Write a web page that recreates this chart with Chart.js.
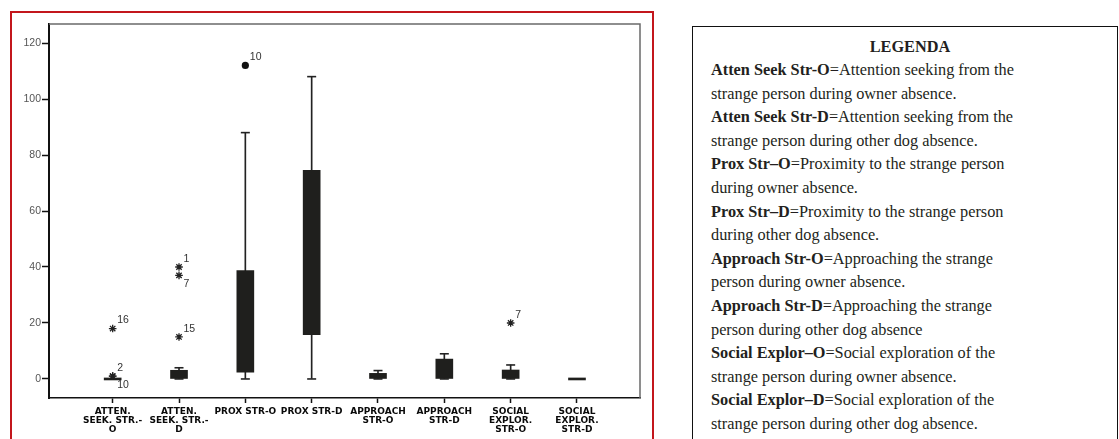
<!DOCTYPE html>
<html>
<head>
<meta charset="utf-8">
<script src="https://cdn.jsdelivr.net/npm/chart.js@4.4.1/dist/chart.umd.min.js"></script>
<style>
  html, body { margin: 0; padding: 0; background: #fff; width: 1119px; height: 439px; overflow: hidden; }
  #frame { position: absolute; left: 10px; top: 11px; width: 644px; height: 450px; border: 2px solid #c3161c; box-sizing: border-box; }
  #wrap { position: absolute; left: 0; top: 0; width: 660px; height: 439px; }
  #legend {
    position: absolute; left: 692px; top: 26px; width: 426px; height: 430px;
    border: 1.5px solid #111; box-sizing: border-box; padding: 9px 0 0 18px;
    font-family: "Liberation Serif", "DejaVu Serif", serif; font-size: 16.3px;
    color: #231f20; line-height: 23.6px; white-space: nowrap;
  }
  #legend .ttl { line-height: 22px; text-align: center; margin-left: -18px; padding-left: 10px; }
</style>
</head>
<body>
<div id="frame"></div>
<div id="wrap"><canvas id="chart"></canvas></div>
<div id="legend">
  <div class="ttl"><b>LEGENDA</b></div>
  <b>Atten Seek Str-O</b>=Attention seeking from the<br>
  strange person during owner absence.<br>
  <b>Atten Seek Str-D</b>=Attention seeking from the<br>
  strange person during other dog absence.<br>
  <b>Prox Str–O</b>=Proximity to the strange person<br>
  during owner absence.<br>
  <b>Prox Str–D</b>=Proximity to the strange person<br>
  during other dog absence.<br>
  <b>Approach Str-O</b>=Approaching the strange<br>
  person during owner absence.<br>
  <b>Approach Str-D</b>=Approaching the strange<br>
  person during other dog absence<br>
  <b>Social Explor–O</b>=Social exploration of the<br>
  strange person during owner absence.<br>
  <b>Social Explor–D</b>=Social exploration of the<br>
  strange person during other dog absence.
</div>
<script>
// Behaviour variables (x axis), one box per variable
const categories = [
  ["ATTEN.", "SEEK. STR.-", "O"],
  ["ATTEN.", "SEEK. STR.-", "D"],
  ["PROX STR-O"],
  ["PROX STR-D"],
  ["APPROACH", "STR-O"],
  ["APPROACH", "STR-D"],
  ["SOCIAL", "EXPLOR.", "STR-O"],
  ["SOCIAL", "EXPLOR.", "STR-D"]
];

// Box: first and third quartile
const boxLow  = [0, 0,   2.4, 15.8, 0, 0,   0,   0];
const boxHigh = [0, 3.1, 38.7, 74.5, 2, 7.1, 3.2, 0];

// Whisker ends
const whiskerLow  = [0, 0, 0,  0,   0, 0, 0, 0];
const whiskerHigh = [0, 4, 88, 108, 3, 9, 5, 0];

// Extreme values (asterisks) with case numbers
const extremeCat   = [0, 0, 0, 1, 1, 1, 6];
const extremeValue = [18, 1, 1, 40, 37, 15, 20];
const extremeId    = ["16", "2", "10", "1", "7", "15", "7"];

// Outliers (circles) with case numbers
const outlierCat   = [2];
const outlierValue = [112];
const outlierId    = ["10"];

// Y axis tick values
const yTicks = [0, 20, 40, 60, 80, 100, 120];

// Case-number labels drawn under their mark instead of above it
const labelsBelow = new Set(["0:10", "1:7"]);

const ink = '#1f1f1d';

const caseLabels = {
  id: 'caseLabels',
  afterDatasetsDraw(chart) {
    const ctx = chart.ctx;
    ctx.save();
    ctx.font = '10.5px "Liberation Sans", Arial, sans-serif';
    ctx.fillStyle = '#333';
    ctx.textBaseline = 'middle';
    ctx.textAlign = 'left';
    const groups = [[3, extremeId, extremeCat], [4, outlierId, outlierCat]];
    groups.forEach(([dsIndex, ids, cats]) => {
      chart.getDatasetMeta(dsIndex).data.forEach((el, j) => {
        const below = labelsBelow.has(cats[j] + ':' + ids[j]);
        ctx.fillText(ids[j], el.x + 4.5, el.y + (below ? 8.5 : -8));
      });
    });
    ctx.restore();
  }
};

const plotFrame = {
  id: 'plotFrame',
  beforeDatasetsDraw(chart) {
    const { ctx, chartArea: a } = chart;
    ctx.save();
    ctx.strokeStyle = '#6a6a6a';
    ctx.lineWidth = 1.5;
    ctx.beginPath();
    ctx.moveTo(a.left, a.top);
    ctx.lineTo(a.right, a.top);
    ctx.lineTo(a.right, a.bottom);
    ctx.stroke();
    ctx.restore();
  }
};

new Chart(document.getElementById('chart'), {
  type: 'bar',
  data: {
    datasets: [
      {
        type: 'bar',
        data: whiskerLow.map((lo, i) => ({ x: i, y: [lo, whiskerHigh[i]] })),
        backgroundColor: '#222',
        barThickness: 1,
        grouped: false,
        order: 4
      },
      {
        type: 'bar',
        data: boxLow.map((lo, i) => ({ x: i, y: [lo, boxHigh[i]] })),
        backgroundColor: ink,
        barThickness: 17,
        minBarLength: 2,
        grouped: false,
        order: 1
      },
      {
        type: 'scatter',
        data: whiskerLow.map((lo, i) => ({ x: i, y: lo }))
          .concat(whiskerHigh.map((hi, i) => ({ x: i, y: hi }))),
        pointStyle: 'line',
        radius: 4.5,
        borderWidth: 1.6,
        borderColor: '#222',
        order: 3
      },
      {
        type: 'scatter',
        data: extremeValue.map((v, i) => ({ x: extremeCat[i], y: v })),
        pointStyle: 'star',
        radius: 3.8,
        borderWidth: 1.3,
        borderColor: '#222',
        order: 0
      },
      {
        type: 'scatter',
        data: outlierValue.map((v, i) => ({ x: outlierCat[i], y: v })),
        pointStyle: 'circle',
        radius: 3.6,
        borderWidth: 0,
        backgroundColor: '#111',
        order: 0
      }
    ]
  },
  options: {
    responsive: true,
    maintainAspectRatio: false,
    animation: false,
    events: [],
    layout: { padding: { top: 24, left: 0, right: 20, bottom: 0 } },
    plugins: { legend: { display: false }, tooltip: { enabled: false } },
    scales: {
      x: {
        type: 'linear',
        min: -0.96,
        max: 7.95,
        offset: false,
        afterBuildTicks: s => { s.ticks = categories.map((c, i) => ({ value: i })); },
        afterFit: s => { s.height = 41; },
        ticks: {
          autoSkip: false,
          maxRotation: 0,
          minRotation: 0,
          padding: 4,
          color: '#0a0a0a',
          font: { family: '"DejaVu Sans", Verdana, sans-serif', size: 9, weight: 'bold', lineHeight: '9px' },
          callback: v => categories[v]
        },
        grid: { drawOnChartArea: false, offset: false, tickLength: 5, tickColor: '#111', tickWidth: 1.5 },
        border: { color: '#111', width: 1.5 }
      },
      y: {
        type: 'linear',
        min: -6.8,
        max: 126.8,
        afterBuildTicks: s => { s.ticks = yTicks.map(v => ({ value: v })); },
        afterFit: s => { s.width = 49; },
        ticks: {
          padding: 1,
          color: '#555',
          font: { family: '"Liberation Sans", Arial, sans-serif', size: 10.5 }
        },
        grid: { drawOnChartArea: false, tickLength: 7, tickColor: '#111', tickWidth: 1.5 },
        border: { color: '#111', width: 2 }
      }
    }
  },
  plugins: [plotFrame, caseLabels]
});
</script>
</body>
</html>
